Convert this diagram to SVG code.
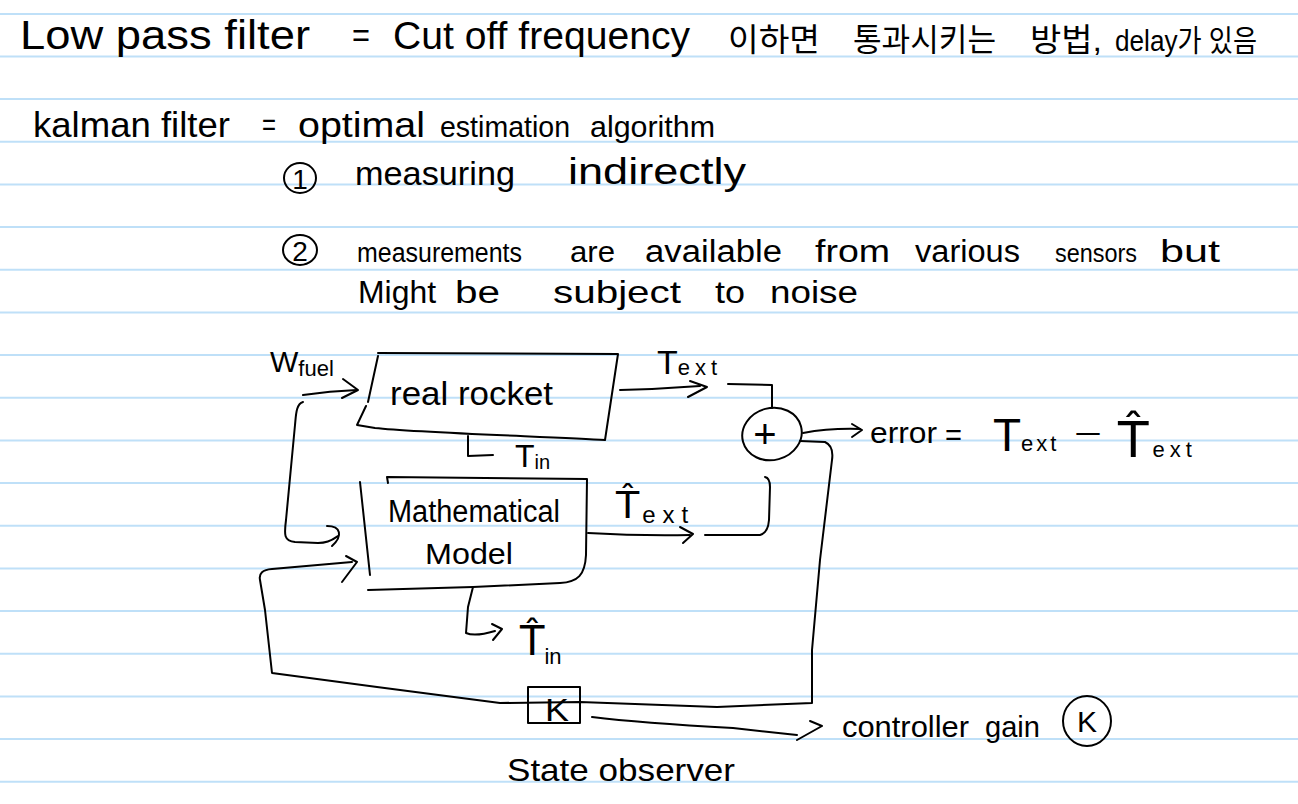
<svg xmlns="http://www.w3.org/2000/svg" width="1298" height="804" viewBox="0 0 1298 804">
<defs>
<style>
.rule{stroke:#bfe0f8;stroke-width:2}
.ink{fill:none;stroke:#000;stroke-width:2;stroke-linecap:round;stroke-linejoin:round}
.t{font-family:'Liberation Sans','Noto Sans CJK KR',sans-serif;fill:#000}
.h{font-family:'DejaVu Sans','Liberation Sans',sans-serif;fill:#000}
</style>
</defs>
<rect width="1298" height="804" fill="#fff"/>
<g id="paper-lines">
<line class="rule" x1="0" y1="14" x2="1298" y2="14"/>
<line class="rule" x1="0" y1="56.5" x2="1298" y2="56.5"/>
<line class="rule" x1="0" y1="99" x2="1298" y2="99"/>
<line class="rule" x1="0" y1="141.7" x2="1298" y2="141.7"/>
<line class="rule" x1="0" y1="184.4" x2="1298" y2="184.4"/>
<line class="rule" x1="0" y1="227" x2="1298" y2="227"/>
<line class="rule" x1="0" y1="269.7" x2="1298" y2="269.7"/>
<line class="rule" x1="0" y1="312.4" x2="1298" y2="312.4"/>
<line class="rule" x1="0" y1="355" x2="1298" y2="355"/>
<line class="rule" x1="0" y1="397.7" x2="1298" y2="397.7"/>
<line class="rule" x1="0" y1="440.4" x2="1298" y2="440.4"/>
<line class="rule" x1="0" y1="483" x2="1298" y2="483"/>
<line class="rule" x1="0" y1="525.7" x2="1298" y2="525.7"/>
<line class="rule" x1="0" y1="568.4" x2="1298" y2="568.4"/>
<line class="rule" x1="0" y1="611" x2="1298" y2="611"/>
<line class="rule" x1="0" y1="653.7" x2="1298" y2="653.7"/>
<line class="rule" x1="0" y1="696.4" x2="1298" y2="696.4"/>
<line class="rule" x1="0" y1="739" x2="1298" y2="739"/>
<line class="rule" x1="0" y1="781.8" x2="1298" y2="781.8"/>
</g>
<g id="notes">
<text class="t" x="20" y="49" font-size="40" textLength="290" lengthAdjust="spacingAndGlyphs">Low pass filter</text>
<text class="t" x="352" y="47" font-size="34" textLength="18" lengthAdjust="spacingAndGlyphs">=</text>
<text class="t" x="393" y="49" font-size="38" textLength="297" lengthAdjust="spacingAndGlyphs">Cut off frequency</text>
<text class="t" x="728" y="51" font-size="32" textLength="92" lengthAdjust="spacingAndGlyphs">이하면</text>
<text class="t" x="853" y="51" font-size="32" textLength="143" lengthAdjust="spacingAndGlyphs">통과시키는</text>
<text class="t" x="1030" y="51" font-size="32" textLength="72" lengthAdjust="spacingAndGlyphs">방법,</text>
<text class="t" x="1115" y="51" font-size="30" textLength="142" lengthAdjust="spacingAndGlyphs">delay가 있음</text>
<text class="t" x="33" y="137" font-size="35" textLength="197" lengthAdjust="spacingAndGlyphs">kalman filter</text>
<text class="t" x="262" y="135" font-size="32" textLength="14" lengthAdjust="spacingAndGlyphs">=</text>
<text class="t" x="298" y="137" font-size="35" textLength="127" lengthAdjust="spacingAndGlyphs">optimal</text>
<text class="t" x="440" y="137" font-size="30" textLength="130" lengthAdjust="spacingAndGlyphs">estimation</text>
<text class="t" x="590" y="137" font-size="30" textLength="125" lengthAdjust="spacingAndGlyphs">algorithm</text>
<ellipse class="ink" cx="300" cy="178" rx="16" ry="15"/>
<text class="t" x="300" y="189" font-size="28" text-anchor="middle">1</text>
<text class="t" x="355" y="185" font-size="33" textLength="160" lengthAdjust="spacingAndGlyphs">measuring</text>
<text class="t" x="568" y="184" font-size="36" textLength="178" lengthAdjust="spacingAndGlyphs">indirectly</text>
<ellipse class="ink" cx="300" cy="250" rx="17" ry="15"/>
<text class="t" x="300" y="261" font-size="28" text-anchor="middle">2</text>
<text class="t" x="357" y="262" font-size="27" textLength="165" lengthAdjust="spacingAndGlyphs">measurements</text>
<text class="t" x="570" y="262" font-size="30" textLength="45" lengthAdjust="spacingAndGlyphs">are</text>
<text class="t" x="645" y="262" font-size="31" textLength="137" lengthAdjust="spacingAndGlyphs">available</text>
<text class="t" x="815" y="262" font-size="31" textLength="75" lengthAdjust="spacingAndGlyphs">from</text>
<text class="t" x="915" y="262" font-size="31" textLength="105" lengthAdjust="spacingAndGlyphs">various</text>
<text class="t" x="1055" y="262" font-size="26" textLength="82" lengthAdjust="spacingAndGlyphs">sensors</text>
<text class="t" x="1160" y="262" font-size="31" textLength="60" lengthAdjust="spacingAndGlyphs">but</text>
<text class="t" x="358" y="303" font-size="31" textLength="78" lengthAdjust="spacingAndGlyphs">Might</text>
<text class="t" x="455" y="303" font-size="31" textLength="45" lengthAdjust="spacingAndGlyphs">be</text>
<text class="t" x="553" y="303" font-size="32" textLength="128" lengthAdjust="spacingAndGlyphs">subject</text>
<text class="t" x="715" y="303" font-size="31" textLength="30" lengthAdjust="spacingAndGlyphs">to</text>
<text class="t" x="770" y="303" font-size="31" textLength="88" lengthAdjust="spacingAndGlyphs">noise</text>
</g>
<g id="connectors">
<path class="ink" d="M303,395 Q330,391 357,390"/>
<path class="ink" d="M343,379 L358,390 L342,398"/>
<path class="ink" d="M303,402 C296,404 296,415 295,425 L286,520 C284,535 284,541 295,542 L318,543 C330,543 335,538 338,536"/>
<path class="ink" d="M327,526 C341,526 343,536 332,546"/>
<path class="ink" d="M620,390 Q660,389 700,386"/>
<path class="ink" d="M690,381 L707,387 L688,397"/>
<path class="ink" d="M728,384 L772,385 L772,408"/>
<path class="ink" d="M588,533 Q640,536 690,535"/>
<path class="ink" d="M680,527 L693,534 L683,543"/>
<path class="ink" d="M705,535 L760,535 Q768,533 769,520 L770,487 Q770,478 765,477"/>
<path class="ink" d="M803,433 Q830,428 860,429"/>
<path class="ink" d="M852,424 L862,430 L852,437"/>
<path class="ink" d="M800,441 L825,442 Q834,446 832,460 L820,560 L812,650 L812,703 L717,707 L580,702 L500,703 L377,687 L272,673 L265,610 L260,580 Q258,570 272,569 L352,562"/>
<path class="ink" d="M346,556 L357,562 L342,582"/>
<path class="ink" d="M468,436 L468,456 L493,455"/>
<path class="ink" d="M473,587 L468,607 L466,633 Q475,637 495,631"/>
<path class="ink" d="M492,624 L502,629 L493,640"/>
<path class="ink" d="M592,717 Q640,723 733,728 L797,735"/>
<path class="ink" d="M810,721 L822,726 L797,740"/>
</g>
<g id="label-wfuel">
<text class="t" x="270" y="372" font-size="30">W<tspan font-size="22" dy="4">fuel</tspan></text>
</g>
<g id="real-rocket">
<path class="ink" d="M378,353 L618,354 L605,440 C560,437 420,433 375,428 L357,425 L366,406 M368,402 L378,356"/>
<text class="t" x="390" y="405" font-size="33" textLength="163" lengthAdjust="spacingAndGlyphs">real rocket</text>
</g>
<g id="label-text">
<text class="t" x="657" y="374" font-size="34">T<tspan font-size="22" dy="1" letter-spacing="5">ext</tspan></text>
</g>
<g id="label-tin">
<text class="t" x="515" y="467" font-size="32">T<tspan font-size="20" dy="2">in</tspan></text>
</g>
<g id="math-model">
<path class="ink" d="M388,483 L387,477 L587,479 L586,555 C585,575 578,582 560,583 L473,587 L368,590"/>
<path class="ink" d="M360,482 L370,575"/>
<text class="t" x="388" y="522" font-size="31" textLength="172" lengthAdjust="spacingAndGlyphs">Mathematical</text>
<text class="t" x="425" y="564" font-size="30" textLength="88" lengthAdjust="spacingAndGlyphs">Model</text>
</g>
<g id="label-text-hat">
<text class="h" x="616" y="518" font-size="38">T̂<tspan class="t" font-size="24" dy="5" dx="3" letter-spacing="7">ext</tspan></text>
</g>
<g id="label-tin-hat">
<text class="h" x="520" y="655" font-size="40">T̂<tspan class="t" font-size="22" dy="9">in</tspan></text>
</g>
<g id="sum-junction">
<ellipse class="ink" cx="772" cy="434" rx="30" ry="26" transform="rotate(-15 772 434)"/>
<text class="t" x="765" y="448" font-size="40" text-anchor="middle">+</text>
</g>
<g id="error-label">
<text class="t" x="870" y="443" font-size="30" textLength="67" lengthAdjust="spacingAndGlyphs">error</text>
<text class="t" x="945" y="445" font-size="30" textLength="17" lengthAdjust="spacingAndGlyphs">=</text>
<text class="t" x="993" y="451" font-size="46">T<tspan font-size="22" letter-spacing="3">ext</tspan></text>
<text class="t" x="1074" y="444" font-size="30" textLength="28" lengthAdjust="spacingAndGlyphs">−</text>
<text class="h" x="1118" y="457" font-size="50">T̂<tspan class="t" font-size="22" dx="4" letter-spacing="5">ext</tspan></text>
</g>
<g id="state-observer">
<rect class="ink" x="528" y="687" width="52" height="36"/>
<text class="t" x="545" y="721" font-size="32" textLength="24" lengthAdjust="spacingAndGlyphs">K</text>
<text class="t" x="507" y="781" font-size="32" textLength="228" lengthAdjust="spacingAndGlyphs">State observer</text>
</g>
<g id="controller-gain">
<text class="t" x="842" y="737" font-size="30" textLength="127" lengthAdjust="spacingAndGlyphs">controller</text>
<text class="t" x="985" y="737" font-size="29" textLength="55" lengthAdjust="spacingAndGlyphs">gain</text>
<ellipse class="ink" cx="1087" cy="721" rx="24" ry="25"/>
<text class="t" x="1087" y="732" font-size="30" text-anchor="middle">K</text>
</g>
</svg>
